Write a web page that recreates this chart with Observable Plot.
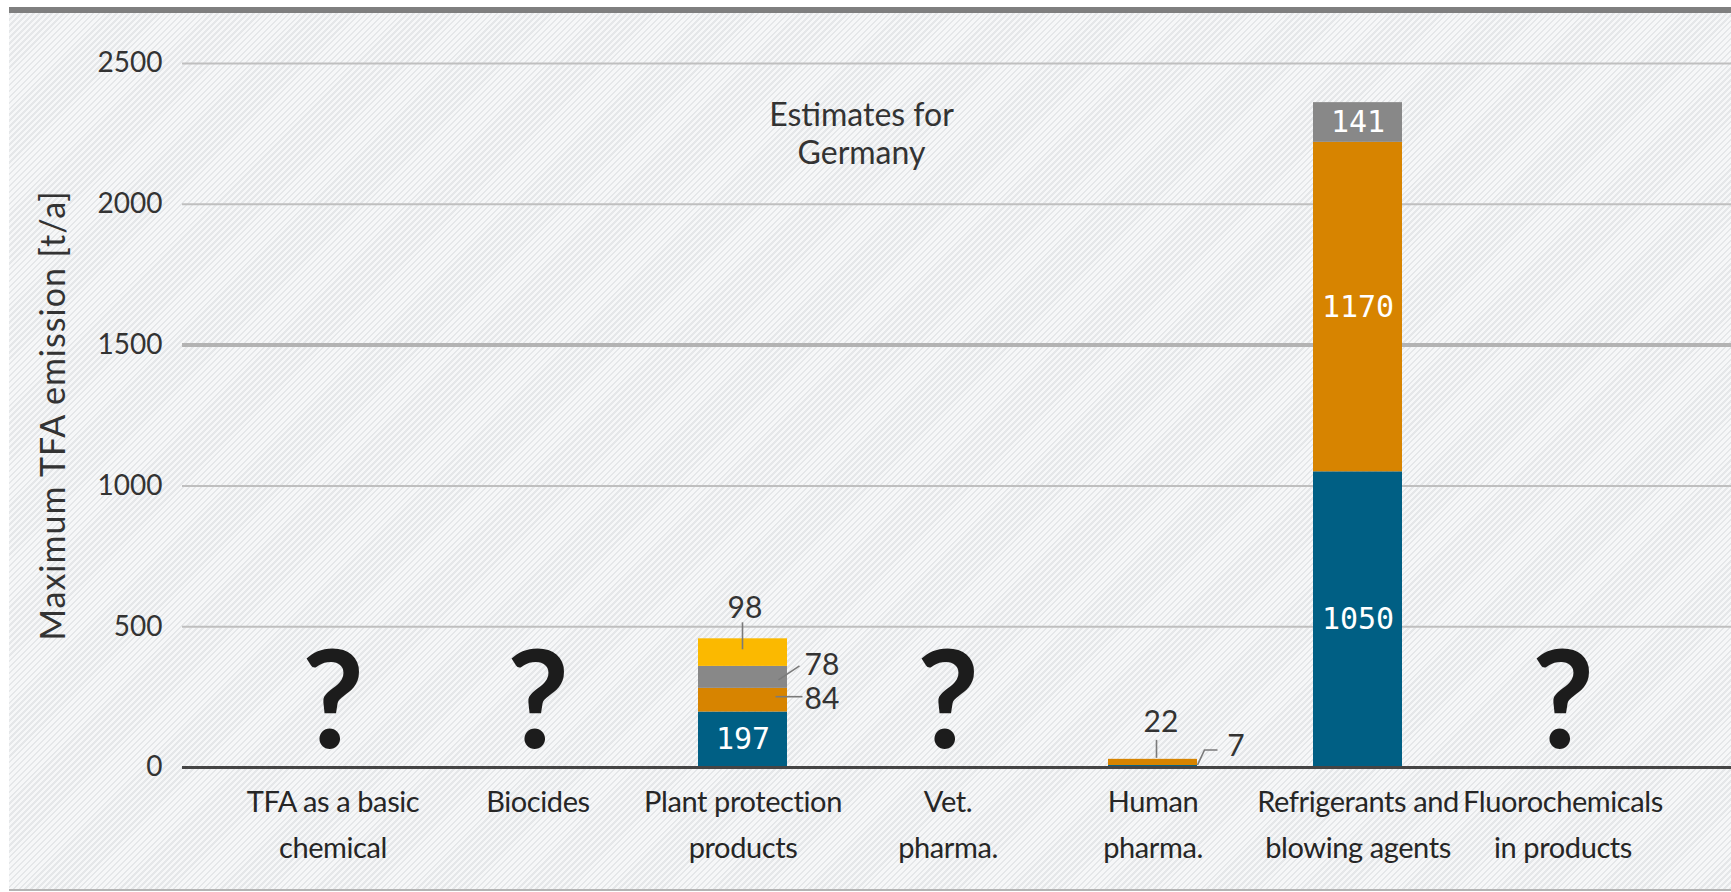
<!DOCTYPE html>
<html><head><meta charset="utf-8">
<script src="https://cdn.jsdelivr.net/npm/d3@7"></script>
<script src="https://cdn.jsdelivr.net/npm/@observablehq/plot@0.6"></script>
<style>
html,body{margin:0;padding:0;background:#fff;width:1731px;height:892px;overflow:hidden;}
#frame{position:absolute;left:9px;top:7px;width:1722px;height:884px;box-sizing:border-box;
  border-top:6px solid #7f7f7f;border-bottom:2px solid #b4b4b4;
  background:repeating-linear-gradient(135deg,#e5e7e9 0px,#e5e7e9 1.8px,#f6f7f8 1.8px,#f6f7f8 4.2px);}
#chart{position:absolute;left:0;top:0;}
</style></head>
<body><div id="frame"></div><div id="chart"></div>
<script>
// ---- data ----
const categories = ["TFA as a basic\nchemical", "Biocides", "Plant protection\nproducts", "Vet.\npharma.", "Human\npharma.", "Refrigerants and\nblowing agents", "Fluorochemicals\nin products"];
const seriesNames = ["Part 1", "Part 2", "Part 3", "Part 4"];
const seriesColors = ["#005f84", "#d78400", "#888888", "#fbb900"];
const part1 = [null, null, 197, null, 7, 1050, null];
const part2 = [null, null, 84, null, 22, 1170, null];
const part3 = [null, null, 78, null, null, 141, null];
const part4 = [null, null, 98, null, null, null, null];
const unknownCategories = ["TFA as a basic\nchemical", "Biocides", "Vet.\npharma.", "Fluorochemicals\nin products"];
const yTicks = [0, 500, 1000, 1500, 2000, 2500];
const annotation = "Estimates for\nGermany";
const yTitle = "Maximum TFA emission [t/a]";

// ---- build tables ----
const seriesValues = [part1, part2, part3, part4];
const rows = [];
seriesValues.forEach((vals, s) => vals.forEach((v, i) => {
  if (v != null) rows.push({category: categories[i], series: seriesNames[s], value: v});
}));
const placed = [];
categories.forEach((c, i) => {
  let base = 0;
  seriesValues.forEach((vals, s) => {
    const v = vals[i];
    if (v != null) {
      placed.push({category: c, series: seriesNames[s], value: v, y1: base, y2: base + v, mid: base + v / 2});
      base += v;
    }
  });
});
const inside = placed.filter(d => d.value >= 100);

// styling of the small outside labels (offsets in px)
const outsideStyle = {
  "Plant protection\nproducts|Part 4": {at: "y2", dx: 2, dy: -30, leader: [[0, -16], [0, 11]]},
  "Plant protection\nproducts|Part 3": {at: "mid", dx: 79, dy: -12, leader: [[36, 3], [57, -11]]},
  "Plant protection\nproducts|Part 2": {at: "mid", dx: 79, dy: -1, leader: [[33, -3], [60, -3]]},
  "Human\npharma.|Part 2": {at: "y2", dx: 8, dy: -37, leader: [[4, -19], [4, -1]]},
  "Human\npharma.|Part 1": {at: "mid", dx: 83, dy: -20, leader: [[45, -1], [52, -16], [65, -16]]}
};
const outside = placed.filter(d => d.value < 100).map(d => ({...d, style: outsideStyle[d.category + "|" + d.series]}));

const W = 1731, H = 892;
const fontMain = "Lato, 'Noto Sans', sans-serif";

const marks = [
  Plot.ruleY(yTicks.filter(t => t !== 0 && t !== 1500), {stroke: "#bfbfbf", strokeWidth: 2}),
  Plot.ruleY(yTicks.filter(t => t === 1500), {stroke: "#b3b3b3", strokeWidth: 4}),
  Plot.barY(rows, {x: "category", y: "value", fill: "series", order: seriesNames}),
  Plot.ruleY([0], {stroke: "#454545", strokeWidth: 3}),
  Plot.axisY({ticks: yTicks, tickFormat: d => String(d), tickSize: 0, tickPadding: 20, fontSize: 28, label: null, fontFamily: fontMain}),
  Plot.axisX({tickSize: 0, tickPadding: 12, fontSize: 29, lineHeight: 1.58, label: null, fontFamily: fontMain, fill: "#262626"}),
  Plot.text(unknownCategories, {x: d => d, y: () => 0, text: () => "?", fontSize: 136, fontWeight: 700, fill: "#1c1c1c", lineAnchor: "bottom", dy: -20, fontFamily: fontMain}),
  Plot.text(inside, {x: "category", y: "mid", text: d => String(d.value), fill: "white", fontSize: 30, fontFamily: "'DejaVu Sans Mono', monospace"}),
  ...outside.map(d => Plot.text([d], {x: "category", y: d.style.at, text: d => String(d.value), dx: d.style.dx, dy: d.style.dy, fill: "#333", fontSize: 30, fontFamily: fontMain})),
  Plot.text([annotation], {frameAnchor: "top-left", dx: 679, dy: 35, textAnchor: "middle", lineAnchor: "top", fontSize: 32, lineHeight: 1.2, fill: "#333", fontFamily: fontMain}),
  Plot.text([yTitle], {frameAnchor: "left", dx: -128, rotate: -90, textAnchor: "middle", lineAnchor: "middle", fontSize: 34, fill: "#333", fontFamily: fontMain})
];

const chart = Plot.plot({
  width: W, height: H,
  marginLeft: 182, marginRight: 0, marginTop: 63, marginBottom: 125,
  style: {background: "transparent", fontFamily: fontMain, color: "#333"},
  x: {type: "band", domain: categories, range: [230.5, 1665.5], paddingInner: 0.565, paddingOuter: 0.2825},
  y: {domain: [0, 2500]},
  color: {domain: seriesNames, range: seriesColors},
  marks
});
document.getElementById("chart").appendChild(chart);

// leader lines, positioned through the chart's scales
const xs = chart.scale("x"), ys = chart.scale("y");
const xb = d3.scaleBand(xs.domain, xs.range).paddingInner(0.565).paddingOuter(0.2825);
const yl = d3.scaleLinear(ys.domain, ys.range);
const cx = c => (xs.apply ? xs.apply(c) : xb(c)) + (xs.bandwidth ?? xb.bandwidth()) / 2;
const cy = v => (ys.apply ? ys.apply(v) : yl(v));
const svg = d3.select(chart.tagName.toLowerCase() === "svg" ? chart : chart.querySelector("svg"));
const g = svg.append("g");
outside.forEach(d => {
  const x0 = cx(d.category), y0 = cy(d[d.style.at]);
  g.append("path")
    .attr("d", d3.line()(d.style.leader.map(([dx, dy]) => [x0 + dx, y0 + dy])))
    .attr("fill", "none").attr("stroke", "#7a7a7a").attr("stroke-width", 1.6);
});
svg.selectAll("text").filter(function() { return this.textContent === yTitle; }).style("letter-spacing", "1px");
// slightly tighter x-axis labels, like the condensed original
svg.selectAll("g[aria-label='x-axis tick label'] text").style("letter-spacing", "-0.4px");
</script>
</body></html>
